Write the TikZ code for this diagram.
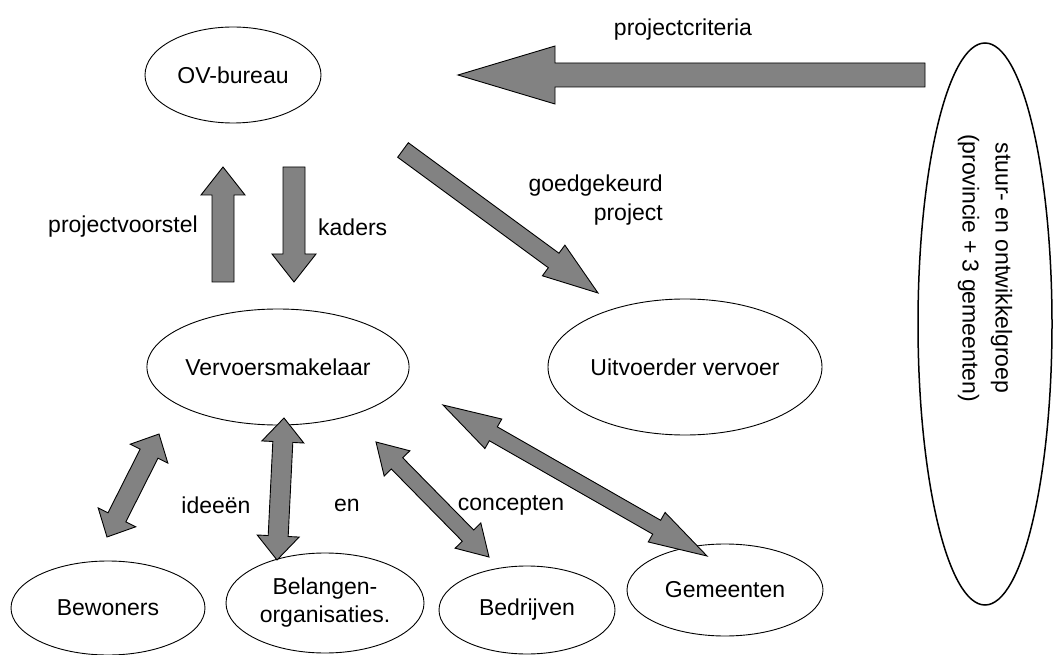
\documentclass[tikz,border=0pt]{standalone}
\usepackage{fontspec}
\setmainfont{Liberation Sans}
\usetikzlibrary{calc,shapes.geometric}
\tikzset{
  ent/.style={draw=black, line width=0.9pt, ellipse, inner sep=0pt, align=center},
  blockarrow/.style={draw=black, line width=0.9pt, fill={rgb,255:red,130;green,130;blue,130}, line join=miter},
  lbl/.style={inner sep=0pt, align=center}
}
% single block arrow: #1 tail, #2 tip, #3 shaft half width, #4 head half width, #5 head length
\newcommand{\sblock}[5]{%
  \coordinate (hbB) at ($(#2)!#5!(#1)$);
  \path[blockarrow] ($(#1)!#3!90:(#2)$) -- ($(hbB)!#3!90:(#2)$) -- ($(hbB)!#4!90:(#2)$) -- (#2)
    -- ($(hbB)!#4!-90:(#2)$) -- ($(hbB)!#3!-90:(#2)$) -- ($(#1)!#3!-90:(#2)$) -- cycle;}
% double block arrow
\newcommand{\dblock}[5]{%
  \coordinate (hbA) at ($(#1)!#5!(#2)$);
  \coordinate (hbB) at ($(#2)!#5!(#1)$);
  \path[blockarrow] (#1) -- ($(hbA)!#4!90:(#2)$) -- ($(hbA)!#3!90:(#2)$) -- ($(hbB)!#3!90:(#2)$)
    -- ($(hbB)!#4!90:(#2)$) -- (#2) -- ($(hbB)!#4!-90:(#2)$) -- ($(hbB)!#3!-90:(#2)$)
    -- ($(hbA)!#3!-90:(#2)$) -- ($(hbA)!#4!-90:(#2)$) -- cycle;}
\begin{document}
\begin{tikzpicture}[x=1pt,y=-1pt,font=\fontsize{23}{28}\selectfont]
\useasboundingbox (0,0) rectangle (1053,655);
% entities
\node[ent, minimum width=176pt, minimum height=96pt] (ov) at (233,75) {OV-bureau};
\node[ent, minimum width=262pt, minimum height=116pt] (vm) at (278,367) {Vervoersmakelaar};
\node[ent, minimum width=274pt, minimum height=136pt] (uv) at (685,367) {Uitvoerder vervoer};
\node[ent, line width=1.5pt, minimum width=134pt, minimum height=562pt] (sg) at (985,324) {};
\node[lbl, rotate=-90, font=\fontsize{23}{33}\selectfont] (sgt) at (985,268) {stuur- en ontwikkelgroep\\(provincie + 3 gemeenten)};
\node[ent, minimum width=194pt, minimum height=94pt] (bw) at (108,608) {Bewoners};
\node[ent, minimum width=198pt, minimum height=100pt] (bo) at (325,603) {Belangen-\\organisaties.};
\node[ent, minimum width=176pt, minimum height=88pt] (bd) at (527,610) {Bedrijven};
\node[ent, minimum width=196pt, minimum height=92pt] (gm) at (725,590) {Gemeenten};
% arrow end points
\coordinate (pcT) at (925,75);   \coordinate (pcH) at (458,75);
\coordinate (pvT) at (223,282);  \coordinate (pvH) at (223,167);
\coordinate (kdT) at (294,167);  \coordinate (kdH) at (294,282);
\coordinate (ggT) at (403,150);  \coordinate (ggH) at (598,293);
\coordinate (bwA) at (159,434);  \coordinate (bwB) at (107,537);
\coordinate (boA) at (284,418);  \coordinate (boB) at (277,560);
\coordinate (bdA) at (376,442);  \coordinate (bdB) at (489,557);
\coordinate (gmA) at (443,405);  \coordinate (gmB) at (707,556);
% arrows
\sblock{pcT}{pcH}{12pt}{29pt}{97pt}
\sblock{pvT}{pvH}{11pt}{22pt}{28pt}
\sblock{kdT}{kdH}{11pt}{22pt}{28pt}
\sblock{ggT}{ggH}{9pt}{19pt}{55pt}
\dblock{bwA}{bwB}{10pt}{21pt}{22pt}
\dblock{boA}{boB}{10pt}{21pt}{24pt}
\dblock{bdA}{bdB}{8pt}{18pt}{30pt}
\dblock{gmA}{gmB}{8pt}{17pt}{58pt}
% labels
\node[lbl] (l1) at (683,30) {projectcriteria};
\node[lbl, anchor=east] (l2) at (663,186) {goedgekeurd};
\node[lbl, anchor=east] (l3) at (663,215) {project};
\node[lbl, anchor=east] (l4) at (198,227) {projectvoorstel};
\node[lbl, anchor=west] (l5) at (318,227) {kaders};
\node[lbl] (l6) at (216,505) {ideeën};
\node[lbl] (l7) at (347,505) {en};
\node[lbl] (l8) at (511,505) {concepten};
\end{tikzpicture}
\end{document}
